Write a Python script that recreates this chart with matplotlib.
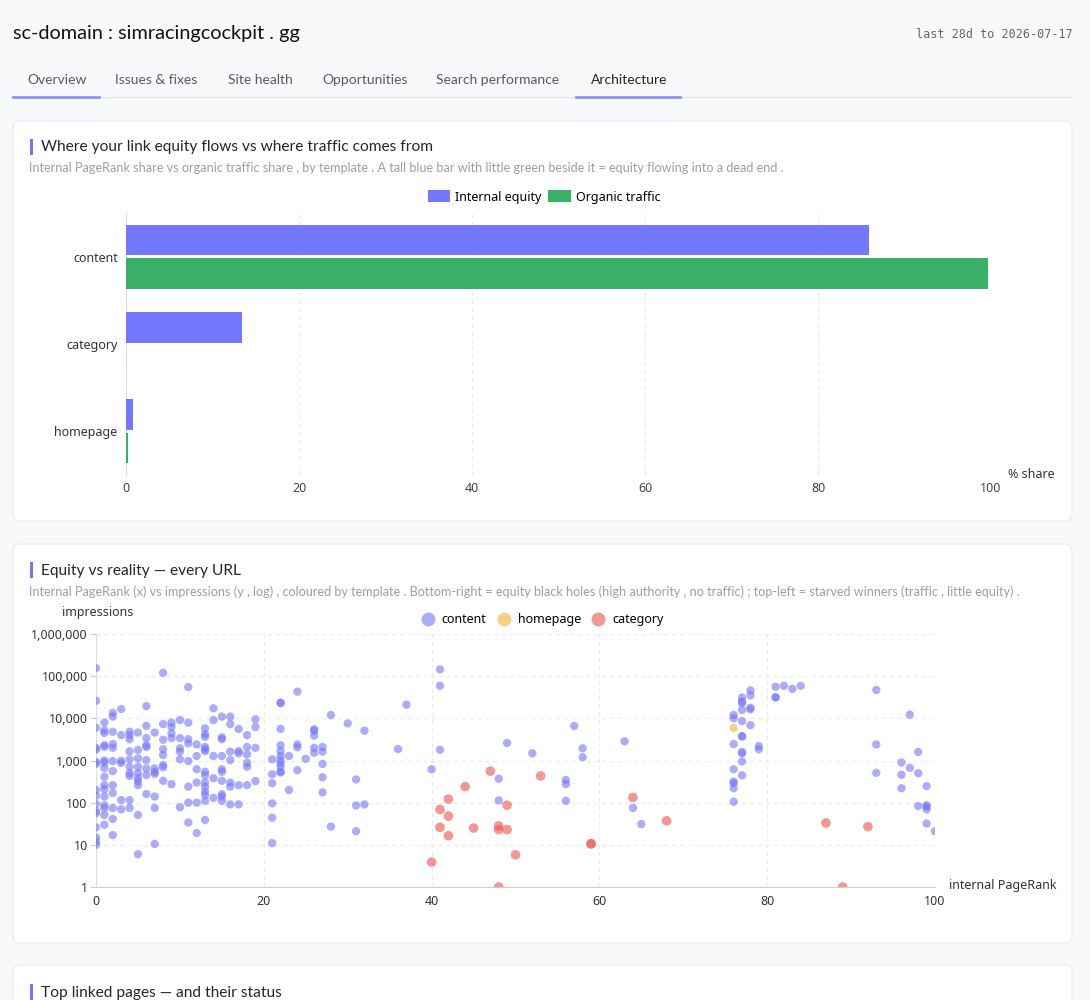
import matplotlib
matplotlib.use("Agg")
import matplotlib.pyplot as plt
from matplotlib.patches import FancyBboxPatch, Patch, Rectangle
from matplotlib.lines import Line2D
from matplotlib.ticker import FuncFormatter, FixedLocator

# ----- Data: share by template -----
templates = ["content", "category", "homepage"]
equity_share = [85.9, 13.4, 0.8]
traffic_share = [99.6, 0.0, 0.2]

# ----- Data: every URL (internal PageRank, impressions) -----
content_x = [
    0, 0, 0, 0, 0, 0, 0, 0, 0, 0, 0, 0, 0, 0, 0, 0,
    1, 1, 1, 1, 1, 1, 1, 1, 1, 1, 1, 1, 1, 1, 1, 1,
    2, 2, 2, 2, 2, 2, 2, 2, 2, 2, 2, 2,
    3, 3, 3, 3, 3, 3,
    4, 4, 4, 4, 4, 4, 4, 4, 4, 4,
    5, 5, 5, 5, 5, 5, 5, 5, 5, 5,
    6, 6, 6, 6, 6, 6, 6, 6, 6,
    7, 7, 7, 7, 7, 7, 7,
    8, 8, 8, 8, 8, 8, 8, 8,
    9, 9, 9, 9, 9,
    10, 10, 10, 10, 10, 10,
    11, 11, 11, 11, 11, 11, 11, 11,
    12, 12, 12, 12, 12, 12,
    13, 13, 13, 13, 13, 13, 13, 13, 13, 13, 13, 13, 13, 13,
    14, 14, 14, 14, 14,
    15, 15, 15, 15, 15, 15, 15, 15, 15, 15,
    16, 16, 16, 16, 16, 16, 16,
    17, 17, 17, 17, 17,
    18, 18, 18, 18, 18, 18,
    19, 19, 19, 19,
    21, 21, 21, 21, 21, 21,
    22, 22, 22, 22, 22, 22, 22, 22, 22, 22, 22,
    23, 23, 24, 24, 24, 24, 25,
    26, 26, 26, 26, 26,
    27, 27, 27, 27, 27,
    28, 28, 30, 31, 31, 31, 32, 32, 36, 37, 40, 41, 41, 41,
    48, 48, 49, 52, 56, 56, 56, 57, 58, 58, 63, 64, 65,
    76, 76, 76, 76, 76, 76, 76, 76,
    77, 77, 77, 77, 77, 77, 77, 77, 77, 77, 77,
    78, 78, 78, 78, 78, 79, 79,
    81, 81, 81, 82, 83, 84,
    93, 93, 93, 96, 96, 96, 97, 97, 98, 98, 98,
    99, 99, 99, 99, 99, 100,
]
content_y = [
    155000, 26000, 6000, 2000, 1800, 930, 830, 200, 145, 93, 63, 56, 26, 15, 12, 10,
    7900, 5200, 4500, 2300, 2100, 1000, 900, 660, 410, 260, 210, 140, 87, 74, 51, 30,
    13500, 11000, 4800, 2450, 2000, 970, 560, 260, 170, 75, 41, 17,
    16600, 4000, 980, 870, 115, 70,
    4800, 4000, 3200, 1650, 1070, 710, 500, 430, 115, 75,
    4600, 1780, 1120, 710, 500, 380, 320, 260, 51, 6,
    19500, 6600, 3400, 2300, 2100, 1020, 650, 450, 160,
    4600, 650, 540, 480, 140, 75, 10.5,
    120000, 7300, 3100, 1850, 1350, 780, 690, 330,
    7900, 6200, 4400, 3400, 275,
    9100, 3400, 1950, 1620, 1070, 78,
    55000, 7900, 3200, 2550, 970, 240, 100, 34,
    2400, 1280, 620, 300, 100, 19,
    5800, 4200, 3650, 2100, 1850, 1670, 540, 450, 300, 240, 183, 152, 110, 39,
    17300, 9100, 1280, 380, 130,
    11000, 3550, 3200, 1280, 620, 540, 330, 160, 140, 110,
    11000, 7300, 1620, 1020, 300, 240, 91,
    5600, 1670, 1480, 260, 91,
    4000, 2100, 1400, 880, 710, 260,
    9500, 6200, 2000, 325,
    1070, 470, 290, 96, 44, 11,
    23500, 23000, 5600, 2300, 1670, 1280, 1020, 860, 710, 540, 520,
    1280, 200, 43000, 2400, 2050, 590, 1100,
    5500, 5100, 3900, 2000, 1520,
    2100, 1620, 830, 400, 175,
    12000, 27, 7600, 355, 86, 21, 5100, 91, 1870, 21000, 620, 145000, 59000, 1800,
    370, 113, 2600, 1480, 345, 275, 111, 6600, 1950, 1200, 2850, 75, 31,
    12000, 10000, 2450, 620, 315, 290, 220, 105,
    31000, 25000, 23000, 15800, 8600, 3800, 3700, 1590, 1480, 950, 445,
    46000, 35000, 17800, 16300, 6900, 2200, 1850,
    56000, 32000, 31000, 59000, 50000, 59000,
    47000, 2400, 510, 900, 460, 220, 12200, 670, 1590, 500, 83,
    247, 87, 80, 69, 32, 21,
]
homepage_x = [76]
homepage_y = [5900]
category_x = [44, 42, 41, 42, 41, 45, 42, 40, 47, 53, 49, 48, 48, 49, 50, 48,
              59, 59, 64, 68, 87, 92, 89]
category_y = [240, 122, 69, 48, 26, 25, 16.5, 3.9, 560, 430, 87, 28, 23, 23, 5.8, 1,
              10.7, 10.5, 133, 37, 33, 27, 1]

# ----- Styling -----
W, H = 1090, 1000
PAGE_BG = "#f8f9fb"
CARD_EDGE = "#eceef2"
INK = "#24262b"
INK_TAB = "#555a64"
INK_SUB = "#9b9ea6"
ACCENT = "#7375ff"
EQUITY = "#7377ff"
TRAFFIC = "#38b065"
GRID = "#ebebeb"
C_CONTENT = "#7376fa"
C_HOME = "#f5b74a"
C_CAT = "#ec5f5a"
UI_FONT = ["Lato", "DejaVu Sans"]
CHART_FONT = ["Noto Sans", "DejaVu Sans"]

plt.rcParams["font.family"] = UI_FONT


def fx(x):
    return x / W


def fy(y):
    return 1 - y / H


fig = plt.figure(figsize=(W / 100, H / 100), dpi=100)
fig.patch.set_facecolor(PAGE_BG)


def card(y0, y1):
    fig.add_artist(FancyBboxPatch(
        (13, H - y1), 1059, y1 - y0,
        boxstyle="round,pad=0,rounding_size=7",
        facecolor="white", edgecolor=CARD_EDGE, linewidth=1.0,
        transform=None, zorder=0,
    ))


def card_title(y, title, sub=None):
    fig.add_artist(Rectangle((fx(30), fy(y + 8)), 2.5 / W, 16 / H,
                             facecolor=ACCENT, edgecolor="none",
                             transform=fig.transFigure))
    fig.text(fx(41), fy(y + 0.5), title, fontsize=11.2, color=INK, va="center")
    if sub:
        fig.text(fx(29), fy(y + 21.5), sub, fontsize=9.1, color=INK_SUB, va="center")


# ----- Header -----
fig.text(fx(13), fy(33), "sc-domain : simracingcockpit . gg", fontsize=14.3, color="#111",
         va="center")
fig.text(fx(1073), fy(35), "last 28d to 2026-07-17", fontsize=8.5, color="#666",
         va="center", ha="right", family="DejaVu Sans Mono")

tabs = ["Overview", "Issues & fixes", "Site health", "Opportunities",
        "Search performance", "Architecture"]
tab_x = [27, 115, 228, 322, 436, 591]
for t, x in zip(tabs, tab_x):
    fig.text(fx(x), fy(79.5), t, fontsize=10, va="center",
             color=INK if t == "Architecture" else INK_TAB)
fig.add_artist(Line2D([fx(13), fx(1072)], [fy(97), fy(97)], color="#e3e5ea",
                      linewidth=1, transform=fig.transFigure))
for a, b in [(13, 99), (576, 680)]:
    fig.add_artist(Line2D([fx(a), fx(b)], [fy(96.5), fy(96.5)], color="#9294f4",
                          linewidth=2, transform=fig.transFigure))

# ----- Card 1: bars -----
card(121, 521)
card_title(147, "Where your link equity flows vs where traffic comes from",
           "Internal PageRank share vs organic traffic share , by template . "
           "A tall blue bar with little green beside it = equity flowing into a dead end .")

ax1 = fig.add_axes([fx(126), fy(475), (991 - 126) / W, (475 - 213) / H])
ypos = list(range(len(templates)))
ax1.barh([p - 0.19 for p in ypos], equity_share, height=0.35, color=EQUITY,
         label="Internal equity", zorder=3)
ax1.barh([p + 0.19 for p in ypos], traffic_share, height=0.35, color=TRAFFIC,
         label="Organic traffic", zorder=3)
ax1.set_ylim(2.5, -0.5)
ax1.set_xlim(0, 100)
ax1.set_yticks(ypos)
ax1.set_yticklabels(templates, family=CHART_FONT)
ax1.set_xticks([0, 20, 40, 60, 80, 100])
for lab in ax1.get_xticklabels():
    lab.set_family(CHART_FONT)
ax1.tick_params(axis="y", length=0, pad=6, labelsize=9, labelcolor="#333")
ax1.tick_params(axis="x", length=0, pad=5, labelsize=9, labelcolor="#444")
ax1.grid(axis="x", color=GRID, linestyle=(0, (4, 3)), linewidth=0.8, zorder=0)
for s in ("top", "right", "bottom"):
    ax1.spines[s].set_visible(False)
ax1.spines["left"].set_color("#dcdcdc")
ax1.set_facecolor("none")
fig.text(fx(1008), fy(474), "% share", fontsize=9, color="#333", va="center",
         family=CHART_FONT)
fig.legend(handles=[Patch(facecolor=EQUITY, label="Internal equity"),
                    Patch(facecolor=TRAFFIC, label="Organic traffic")],
           loc="center", bbox_to_anchor=(fx(544), fy(197)), ncol=2, frameon=False,
           handlelength=1.8, handleheight=1.1, handletextpad=0.4,
           columnspacing=0.55, prop={"family": CHART_FONT, "size": 9})

# ----- Card 2: scatter -----
card(544, 943)
card_title(570, "Equity vs reality \u2014 every URL",
           "Internal PageRank (x) vs impressions (y , log) , coloured by template . "
           "Bottom-right = equity black holes (high authority , no traffic) ; "
           "top-left = starved winners (traffic , little equity) .")

ax2 = fig.add_axes([fx(96), fy(887), (935 - 96) / W, (887 - 634) / H])
ax2.scatter(content_x, content_y, s=36, color=C_CONTENT, alpha=0.6,
            edgecolors="none", zorder=3)
ax2.scatter(homepage_x, homepage_y, s=36, color=C_HOME, alpha=0.65,
            edgecolors="none", zorder=3)
ax2.scatter(category_x, category_y, s=48, color=C_CAT, alpha=0.65,
            edgecolors="none", zorder=3)
ax2.set_yscale("log")
ax2.set_ylim(1, 1e6)
ax2.set_xlim(0, 100)
ax2.yaxis.set_major_locator(FixedLocator([1, 10, 100, 1e3, 1e4, 1e5, 1e6]))
ax2.yaxis.set_minor_locator(FixedLocator([]))
ax2.yaxis.set_major_formatter(FuncFormatter(lambda v, p: f"{int(round(v)):,}"))
ax2.set_xticks([0, 20, 40, 60, 80, 100])
for lab in ax2.get_xticklabels() + ax2.get_yticklabels():
    lab.set_family(CHART_FONT)
ax2.tick_params(axis="y", length=4, color="#cccccc", pad=2, labelsize=9,
                labelcolor="#333")
ax2.tick_params(axis="x", length=0, pad=6, labelsize=9, labelcolor="#333")
ax2.grid(True, color=GRID, linestyle=(0, (4, 3)), linewidth=0.8, zorder=0)
for s in ("top", "right"):
    ax2.spines[s].set_visible(False)
ax2.spines["left"].set_color("#dcdcdc")
ax2.spines["bottom"].set_color("#cfcfcf")
ax2.set_facecolor("none")
fig.text(fx(62), fy(612.5), "impressions", fontsize=9, color="#333", va="center",
         family=CHART_FONT)
fig.text(fx(949), fy(886), "internal PageRank", fontsize=9, color="#333",
         va="center", family=CHART_FONT)
fig.legend(handles=[
    Line2D([], [], marker="o", linestyle="none", markersize=10, color=C_CONTENT,
           alpha=0.6, markeredgewidth=0, label="content"),
    Line2D([], [], marker="o", linestyle="none", markersize=10, color=C_HOME,
           alpha=0.65, markeredgewidth=0, label="homepage"),
    Line2D([], [], marker="o", linestyle="none", markersize=10, color=C_CAT,
           alpha=0.65, markeredgewidth=0, label="category"),
], loc="center", bbox_to_anchor=(fx(542), fy(619.5)), ncol=3, frameon=False,
    handlelength=1.2, handletextpad=0.5, columnspacing=0.8,
    prop={"family": CHART_FONT, "size": 9})

# ----- Card 3 (cut off) -----
card(965, 1040)
card_title(992, "Top linked pages \u2014 and their status")

fig.savefig("out.png", dpi=100, facecolor=PAGE_BG)
